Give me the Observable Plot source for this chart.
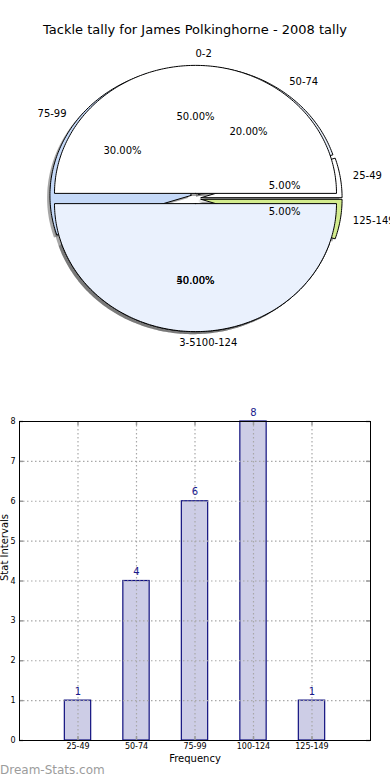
<!DOCTYPE html>
<html><head><meta charset="utf-8">
<script src="https://cdn.jsdelivr.net/npm/d3@7"></script>
<script src="https://cdn.jsdelivr.net/npm/@observablehq/plot@0.6"></script>
<style>
body{margin:0;background:#fff;font-family:"DejaVu Sans",sans-serif;}
#wrap{position:relative;width:390px;height:780px;overflow:hidden;}
#title{position:absolute;top:21px;left:0;width:390px;text-align:center;font-size:13px;line-height:18px;color:#000;}
#pie{position:absolute;top:0;left:0;}
#bar{position:absolute;top:400px;left:0;}
#wm{position:absolute;left:0;top:762px;font-size:12px;line-height:16px;color:#9c9c9c;}
</style></head><body>
<div id="wrap"><div id="pie"></div><div id="title"></div><div id="bar"></div><div id="wm"></div></div>
<script>
const chartTitle = "Tackle tally for James Polkinghorne - 2008 tally";
const watermark = "Dream-Stats.com";
const pie1Labels = ["0-2", "3-5"];
const pie1Values = [1, 1];
const pie1Colors = ["#ffffff", "#eaf1fd"];
const pie2Labels = ["25-49", "50-74", "75-99", "100-124", "125-149"];
const pie2Values = [1, 4, 6, 8, 1];
const pie2Colors = ["#ffffff", "#eaf1fd", "#c5d9f8", "#a9c6f2", "#d3ec8e"];
const barCategories = ["25-49", "50-74", "75-99", "100-124", "125-149"];
const barValues = [1, 4, 6, 8, 1];
const yTicks = [0, 1, 2, 3, 4, 5, 6, 7, 8];
const xLabel = "Frequency";
const yLabel = "Stat Intervals";

document.getElementById("title").textContent = chartTitle;
document.getElementById("wm").textContent = watermark;

const EXPLODE = 0.04, LABEL_DIST = 1.09, PCT_DIST = 0.6, SHADOW = 0.02;

// tieStart: how a label sitting exactly on the vertical axis is aligned
function wedges(labels, values, colors, tieStart) {
  const total = d3.sum(values);
  let t1 = 0;
  return values.map((v, i) => {
    const t2 = t1 + v / total;
    const mid = Math.PI * (t1 + t2);
    const ox = EXPLODE * Math.cos(mid), oy = EXPLODE * Math.sin(mid);
    const pts = [{x: ox, y: oy}];
    const n = Math.max(4, Math.ceil((t2 - t1) * 360));
    for (let k = 0; k <= n; k++) {
      const a = 2 * Math.PI * (t1 + (t2 - t1) * k / n);
      pts.push({x: ox + Math.cos(a), y: oy + Math.sin(a)});
    }
    pts.push({x: ox, y: oy});
    const xt = ox + LABEL_DIST * Math.cos(mid);
    let anchor = xt > 0 ? "start" : "end";
    if (tieStart && Math.abs(xt) < 1e-9) anchor = "start";
    const w = {
      label: labels[i], pct: (100 * v / total).toFixed(2) + "%", color: colors[i], pts,
      lx: xt, ly: oy + LABEL_DIST * Math.sin(mid), anchor,
      px: ox + PCT_DIST * Math.cos(mid), py: oy + PCT_DIST * Math.sin(mid)
    };
    t1 = t2;
    return w;
  });
}

const w2 = wedges(pie2Labels, pie2Values, pie2Colors, true);
const w1 = wedges(pie1Labels, pie1Values, pie1Colors, false);
const allW = [...w2, ...w1];

const pieMarks = [];
for (const w of allW) {
  pieMarks.push(Plot.line(w.pts, {x: d => d.x - SHADOW, y: d => d.y - SHADOW, fill: "#4d4d4d", fillOpacity: 0.5, stroke: "none"}));
}
for (const w of allW) {
  pieMarks.push(Plot.line(w.pts, {x: "x", y: "y", fill: w.color, stroke: "#000", strokeWidth: 1}));
}
pieMarks.push(Plot.text(allW.filter(w => w.anchor === "start"), {x: "lx", y: "ly", text: "label", textAnchor: "start", fill: "#000"}));
pieMarks.push(Plot.text(allW.filter(w => w.anchor === "end"), {x: "lx", y: "ly", text: "label", textAnchor: "end", fill: "#000"}));
pieMarks.push(Plot.text(allW, {x: "px", y: "py", text: "pct", fill: "#000"}));

const pie = Plot.plot({
  width: 390, height: 380,
  margin: 0,
  style: {fontFamily: "DejaVu Sans", fontSize: "10px", overflow: "visible"},
  x: {domain: [-1, 1], range: [54, 336], axis: null},
  y: {domain: [-1, 1], range: [326, 70], axis: null},
  marks: pieMarks
});
document.getElementById("pie").appendChild(pie);

const barData = barCategories.map((c, i) => ({cat: c, i: i + 1, value: barValues[i]}));
const catPos = barData.map(d => d.i);
const tickLenX = 4 / 58.5, tickLenY = 4 / 40;

const bar = Plot.plot({
  width: 390, height: 380,
  marginTop: 21, marginBottom: 40, marginLeft: 19, marginRight: 20,
  style: {fontFamily: "DejaVu Sans", fontSize: "10px", overflow: "visible"},
  x: {domain: [0, 6], axis: null},
  y: {domain: [0, 8], axis: null},
  marks: [
    Plot.rect(barData, {x1: d => d.i - 0.225, x2: d => d.i + 0.225, y1: 0, y2: "value", fill: "#cdcde6", stroke: "#10107f", strokeWidth: 1.2}),
    Plot.gridX(catPos, {stroke: "#a8a8a8", strokeOpacity: 1, strokeWidth: 1.2, strokeDasharray: "1.5,2.5"}),
    Plot.gridY(yTicks, {stroke: "#a8a8a8", strokeOpacity: 1, strokeWidth: 1.2, strokeDasharray: "1.5,2.5"}),
    Plot.ruleY(yTicks, {x1: 6 - tickLenX, x2: 6, stroke: "#999", strokeWidth: 1.5}),
    Plot.ruleY(yTicks, {x1: 0, x2: tickLenX, stroke: "#999", strokeWidth: 1.5}),
    Plot.ruleX(catPos, {y1: 8 - tickLenY, y2: 8, stroke: "#999", strokeWidth: 1.5}),
    Plot.ruleX(catPos, {y1: 0, y2: tickLenY, stroke: "#999", strokeWidth: 1.5}),
    Plot.frame({stroke: "#000"}),
    Plot.axisX(catPos, {tickSize: 0, tickPadding: 3, fontSize: 8, tickFormat: i => barCategories[i - 1], label: null}),
    Plot.axisY(yTicks, {tickSize: 0, tickPadding: 4, fontSize: 8, label: null}),
    Plot.text(barData, {x: "i", y: "value", text: d => String(d.value), dy: -9, fill: "#1a1a8c", fontSize: 10}),
    Plot.text([xLabel], {frameAnchor: "bottom", dy: 21, fontSize: 10, fill: "#000"}),
    Plot.text([yLabel], {frameAnchor: "left", rotate: -90, dx: -15, fontSize: 10, fill: "#000"})
  ]
});
document.getElementById("bar").appendChild(bar);
</script>
</body></html>
